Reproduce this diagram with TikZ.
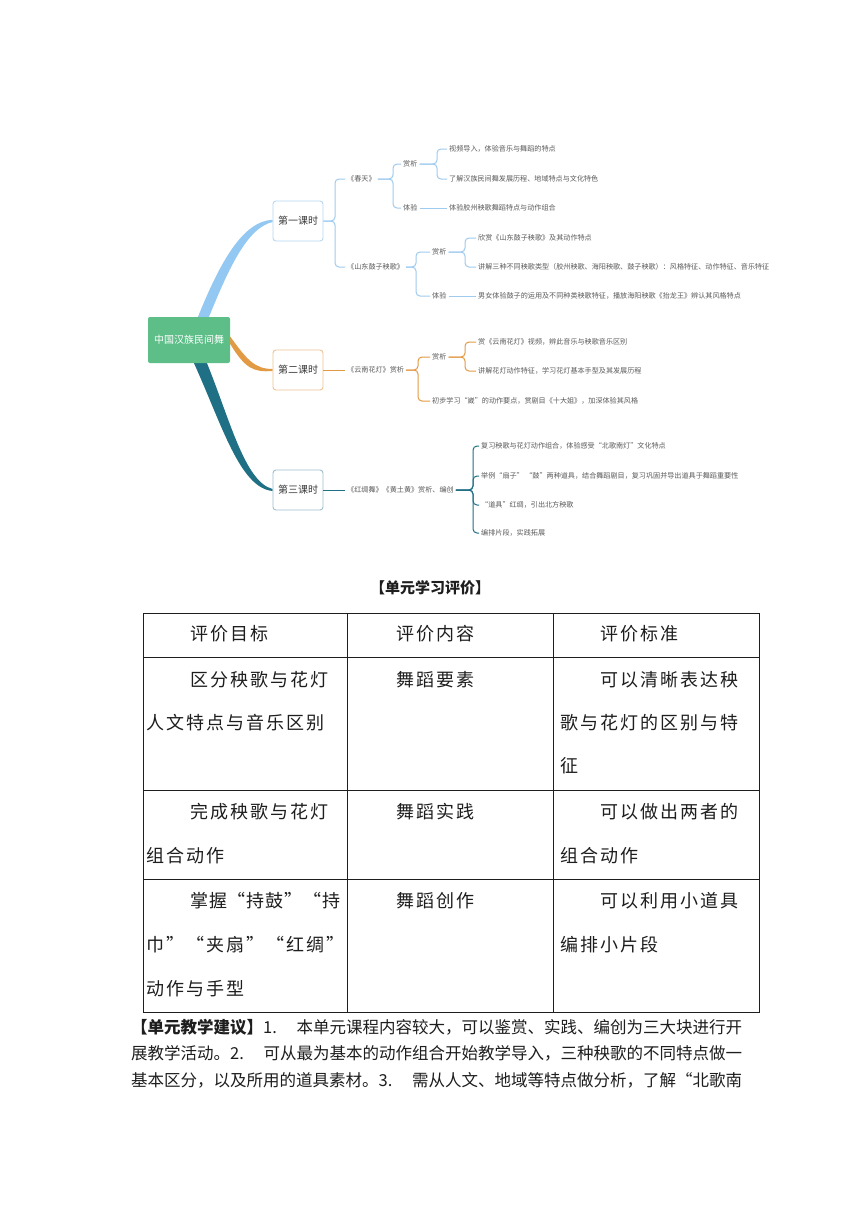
\documentclass[tikz,border=0pt]{standalone}
\usepackage{fontspec}
\newfontfamily\cjk{Noto Sans CJK SC}
\newfontfamily\cjkls[LetterSpace=11]{Noto Sans CJK SC}
\newfontfamily\cjklt[LetterSpace=5]{Noto Sans CJK SC}
\usetikzlibrary{calc}
\pgfdeclarelayer{bg}
\pgfsetlayers{bg,main}
\definecolor{rootg}{HTML}{5DBE88}
\definecolor{bline}{HTML}{9FCBEE}
\definecolor{bband}{HTML}{92C8F2}
\definecolor{bbox}{HTML}{B7D9F2}
\definecolor{oline}{HTML}{E39A45}
\definecolor{obox}{HTML}{EFC395}
\definecolor{tline}{HTML}{1F6F85}
\definecolor{tbox}{HTML}{9CC0CC}
\definecolor{txtdark}{HTML}{3A3A3A}
\definecolor{txtgray}{HTML}{5A5A5A}
\definecolor{tblack}{HTML}{1E1E1E}
\begin{document}
\begin{tikzpicture}[x=1pt,y=-1pt,
  lbox/.style={draw=#1, line width=0.9pt, rounded corners=3pt, fill=white, minimum width=50pt, minimum height=40pt, inner sep=1pt, font=\cjk\fontsize{10}{12}\selectfont, text=txtdark},
  sm/.style={anchor=west, inner sep=2pt, font=\cjk\fontsize{7.1}{8}\selectfont, text=txtgray},
  br/.style={draw=#1, line width=1pt, rounded corners=4pt},
  tb/.style={anchor=west, inner sep=0pt, font=\cjkls\fontsize{18}{20}\selectfont, text=tblack},
  para/.style={anchor=west, inner sep=0pt, font=\cjk\fontsize{16.5}{18}\selectfont, text=tblack}]
\useasboundingbox (0,0) rectangle (860,1216);

% ---------- mind map nodes ----------
\node[fill=rootg, rounded corners=2pt, minimum width=82pt, minimum height=46pt, inner sep=1pt,
      font=\cjk\fontsize{10}{12}\selectfont, text=white] (root) at (189,340) {中国汉族民间舞};
\node[lbox=bbox] (L1a) at (298,221) {第一课时};
\node[lbox=obox] (L1b) at (298,370) {第二课时};
\node[lbox=tbox] (L1c) at (298,490) {第三课时};

% background and branch shapes
\begin{pgfonlayer}{bg}
\fill[white] (0,0) rectangle (860,1216);
\fill[bband] ([xshift=9pt]root.north) .. controls (220,262) and (243,221) .. ([yshift=1.2pt]L1a.west)
  -- ([yshift=-1pt]L1a.west) .. controls (247,228) and (229,268) .. ([xshift=20pt]root.north) -- cycle;
\fill[oline] ([yshift=3.5pt]root.east) .. controls (247,360) and (255,369) .. ([yshift=1pt]L1b.west)
  -- ([yshift=-1pt]L1b.west) .. controls (253,372.5) and (245,368) .. ([yshift=-4pt]root.east) -- cycle;
\fill[tline] ([xshift=18pt]root.south) .. controls (230,420) and (245,482) .. ([yshift=1pt]L1c.west)
  -- ([yshift=-1pt]L1c.west) .. controls (240,488) and (222,425) .. ([xshift=5pt]root.south) -- cycle;
\end{pgfonlayer}

% branch 1
\node[sm] (n11) at (345,179) {《春天》};
\node[sm] (n12) at (345,267) {《山东鼓子秧歌》};
\node[sm] (n111) at (401,164) {赏析};
\node[sm] (n112) at (401,208) {体验};
\node[sm] (n1111) at (447,149) {视频导入，体验音乐与舞蹈的特点};
\node[sm] (n1112) at (447,179) {了解汉族民间舞发展历程、地域特点与文化特色};
\node[sm] (n1121) at (447,208) {体验胶州秧歌舞蹈特点与动作组合};
\node[sm] (n121) at (430,252) {赏析};
\node[sm] (n122) at (430,296) {体验};
\node[sm] (n1211) at (476,238) {欣赏《山东鼓子秧歌》及其动作特点};
\node[sm] (n1212) at (476,267) {讲解三种不同秧歌类型（胶州秧歌、海阳秧歌、鼓子秧歌）：风格特征、动作特征、音乐特征};
\node[sm] (n1221) at (476,296) {男女体验鼓子的运用及不同种类秧歌特征，播放海阳秧歌《抬龙王》辨认其风格特点};

\coordinate (b0) at (335,0);
\coordinate (b1) at (393,0);
\coordinate (b2) at (437,0);
\coordinate (b3) at (416,0);
\coordinate (b4) at (465,0);
\draw[br=bline] (L1a.east) -- (L1a.east -| b0) |- (n11.west);
\draw[br=bline] (L1a.east) -- (L1a.east -| b0) |- (n12.west);
\draw[br=bline] (n11.east) -- (n11.east -| b1) |- (n111.west);
\draw[br=bline] (n11.east) -- (n11.east -| b1) |- (n112.west);
\draw[br=bline] (n111.east) -- (n111.east -| b2) |- (n1111.west);
\draw[br=bline] (n111.east) -- (n111.east -| b2) |- (n1112.west);
\draw[br=bline] (n112.east) -- (n1121.west);
\draw[br=bline] (n12.east) -- (n12.east -| b3) |- (n121.west);
\draw[br=bline] (n12.east) -- (n12.east -| b3) |- (n122.west);
\draw[br=bline] (n121.east) -- (n121.east -| b4) |- (n1211.west);
\draw[br=bline] (n121.east) -- (n121.east -| b4) |- (n1212.west);
\draw[br=bline] (n122.east) -- (n1221.west);

% branch 2
\node[sm] (n2) at (345,370) {《云南花灯》赏析};
\node[sm] (n21) at (430,357) {赏析};
\node[sm] (n22) at (430,401) {初步学习“崴”的动作要点，赏剧目《十大姐》，加深体验其风格};
\node[sm] (n211) at (476,342) {赏《云南花灯》视频，辨此音乐与秧歌音乐区别};
\node[sm] (n212) at (476,371) {讲解花灯动作特征，学习花灯基本手型及其发展历程};
\coordinate (b5) at (418,0);
\coordinate (b6) at (465,0);
\draw[br=oline] (L1b.east) -- (n2.west);
\draw[br=oline] (n2.east) -- (n2.east -| b5) |- (n21.west);
\draw[br=oline] (n2.east) -- (n2.east -| b5) |- (n22.west);
\draw[br=oline] (n21.east) -- (n21.east -| b6) |- (n211.west);
\draw[br=oline] (n21.east) -- (n21.east -| b6) |- (n212.west);

% branch 3
\node[sm] (n3) at (345,490) {《红绸舞》《黄土黄》赏析、编创};
\node[sm] (n31) at (479,446) {复习秧歌与花灯动作组合，体验感受“北歌南灯”文化特点};
\node[sm] (n32) at (479,476) {举例“扇子”\ “鼓”两种道具，结合舞蹈剧目，复习巩固并导出道具于舞蹈重要性};
\node[sm] (n33) at (479,505) {“道具”红绸，引出北方秧歌};
\node[sm] (n34) at (479,533) {编排片段，实践拓展};
\coordinate (b7) at (473,0);
\draw[br=tline] (L1c.east) -- (n3.west);
\foreach \c in {n31,n32,n33,n34}
  \draw[br=tline] (n3.east) -- (n3.east -| b7) |- (\c.west);

% ---------- evaluation table ----------
\node[font=\cjk\bfseries\fontsize{15}{17}\selectfont, text=tblack, inner sep=0pt] (title) at (430,588) {【单元学习评价】};

\draw[line width=1pt, tblack] (143,613) rectangle (759,1012);
\draw[line width=1pt, tblack] (347,613) -- (347,1012) (553,613) -- (553,1012);
\draw[line width=1pt, tblack] (143,657) -- (759,657) (143,790) -- (759,790) (143,879) -- (759,879);

\node[tb] (h1) at (190,634) {评价目标};
\node[tb] (h2) at (396,634) {评价内容};
\node[tb] (h3) at (600,634) {评价标准};

\node[tb] (r1a) at (190,680) {区分秧歌与花灯};
\node[tb] (r1b) at (146,723) {人文特点与音乐区别};
\node[tb] (r1c) at (396,680) {舞蹈要素};
\node[tb] (r1d) at (600,680) {可以清晰表达秧};
\node[tb] (r1e) at (560,723) {歌与花灯的区别与特};
\node[tb] (r1f) at (560,766) {征};

\node[tb] (r2a) at (190,812) {完成秧歌与花灯};
\node[tb] (r2b) at (146,856) {组合动作};
\node[tb] (r2c) at (396,812) {舞蹈实践};
\node[tb] (r2d) at (600,812) {可以做出两者的};
\node[tb] (r2e) at (560,856) {组合动作};

\node[tb, font=\cjklt\fontsize{18}{20}\selectfont] (r3a) at (190,901) {掌握“持鼓”“持};
\node[tb] (r3b) at (146,945) {巾”“夹扇”“红绸”};
\node[tb] (r3c) at (146,989) {动作与手型};
\node[tb] (r3d) at (396,901) {舞蹈创作};
\node[tb] (r3e) at (600,901) {可以利用小道具};
\node[tb] (r3f) at (560,945) {编排小片段};

% ---------- paragraph ----------
\node[para] (p1) at (131,1027) {\hbox to 611pt{{\bfseries 【单元教学建议】}1.\hfil 本单元课程内容较大，可以鉴赏、实践、编创为三大块进行开}};
\node[para] (p2) at (131,1053) {\hbox to 611pt{展教学活动。2.\hfil 可从最为基本的动作组合开始教学导入，三种秧歌的不同特点做一}};
\node[para] (p3) at (131,1080) {\hbox to 611pt{基本区分，以及所用的道具素材。3.\hfil 需从人文、地域等特点做分析，了解“北歌南}};
\end{tikzpicture}
\end{document}
